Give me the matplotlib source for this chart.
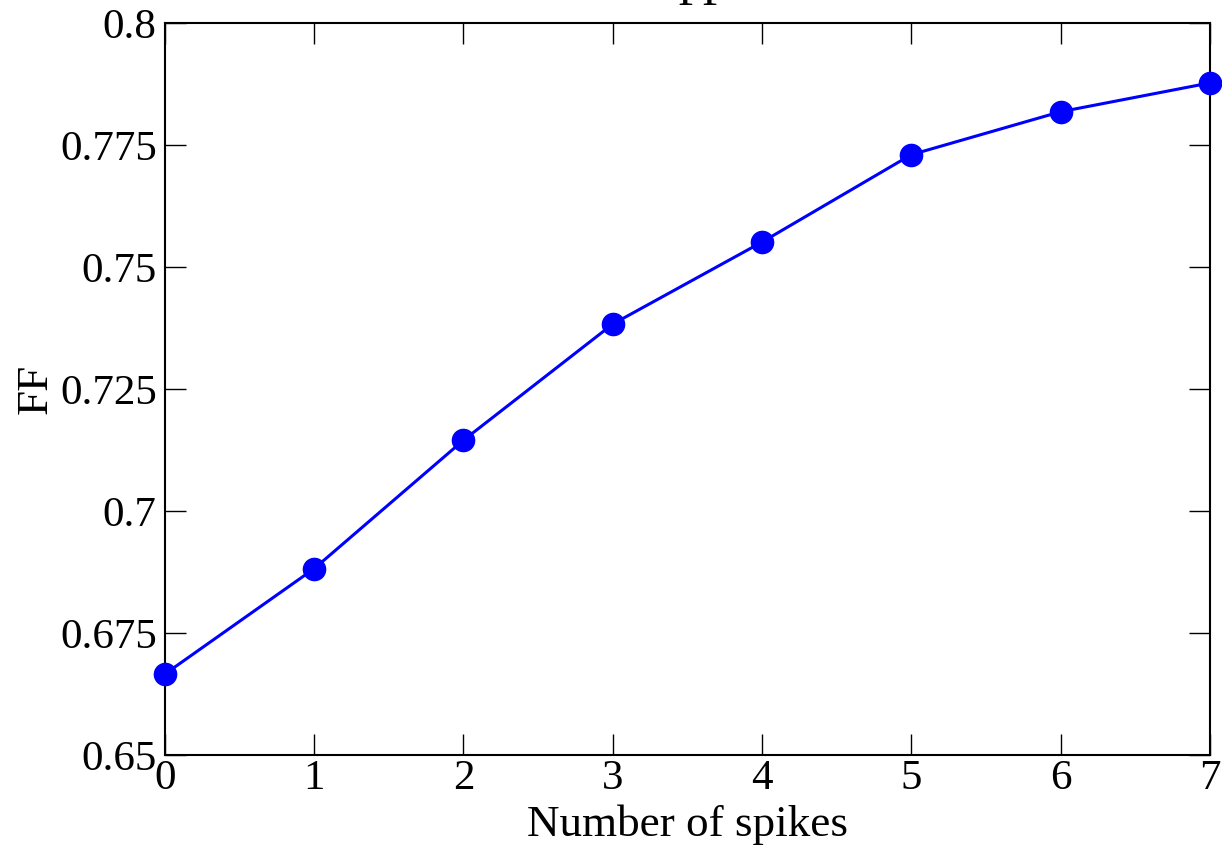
import numpy as np
import matplotlib.pyplot as plt

plt.rcParams['font.family'] = ['Liberation Serif', 'DejaVu Serif']

spikes = np.array([0, 1, 2, 3, 4, 5, 6, 7])
ff = np.array([0.6666, 0.6882, 0.7145, 0.7383, 0.7551, 0.7730, 0.7818, 0.7877])
yticks = [0.65, 0.675, 0.7, 0.725, 0.75, 0.775, 0.8]
ytick_labels = ['0.65', '0.675', '0.7', '0.725', '0.75', '0.775', '0.8']

fig = plt.figure(figsize=(12.22, 8.49), dpi=100)
ax = fig.add_axes([0.135, 0.1107, 0.855, 0.8623])

ax.plot(spikes, ff, '-o', color='#0000ff', lw=2.2, markersize=16, clip_on=False, zorder=5)

ax.set_xlim(0, 7)
ax.set_ylim(0.65, 0.8)
ax.set_xticks(spikes)
ax.set_yticks(yticks)
ax.set_yticklabels(ytick_labels)
ax.tick_params(direction='in', length=15, width=1, top=True, right=True, labelsize=31, pad=6)
ax.tick_params(axis='x', pad=3)
for s in ax.spines.values():
    s.set_linewidth(1.5)

ax.set_xlabel('Number of spikes', fontsize=32.5, labelpad=5)
ax.set_ylabel('FF', fontsize=32.5, labelpad=3)

# title mostly cut off at the top edge
fig.text(703 / 1222, 1 - 5 / 849, 'FF', fontsize=32.5, ha='center', va='baseline')

fig.savefig('out.png', dpi=100)
